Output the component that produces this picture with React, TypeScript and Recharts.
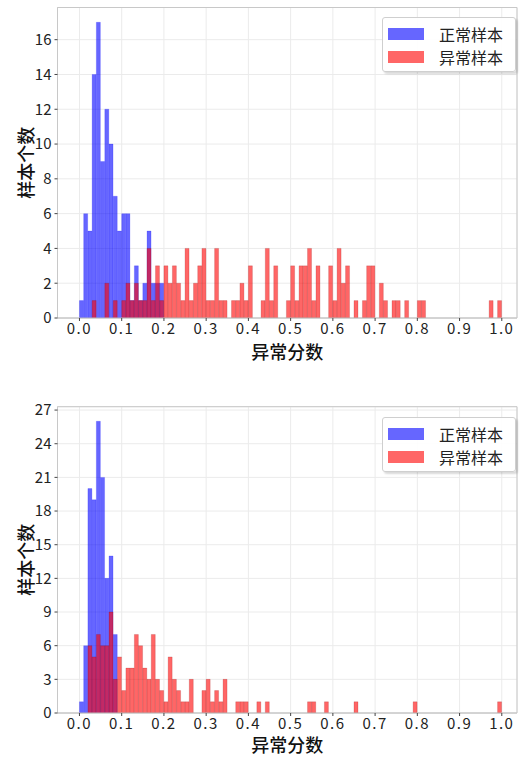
import React from 'react';
import { BarChart, Bar, XAxis, YAxis, CartesianGrid, ReferenceArea, Label } from 'recharts';

// histogram bins: 100 bins of width 0.01 over [0, 1]
const BIN_COUNT = 100;
const binCenters = Array.from({ length: BIN_COUNT }, (_, i) => +(i * 0.01 + 0.005).toFixed(3));

const xTicks = [0, 0.1, 0.2, 0.3, 0.4, 0.5, 0.6, 0.7, 0.8, 0.9, 1.0];
const topYTicks = [0, 2, 4, 6, 8, 10, 12, 14, 16];
const bottomYTicks = [0, 3, 6, 9, 12, 15, 18, 21, 24, 27];

// top panel counts per bin
const topNormal = [
  1, 6, 5, 14, 17, 9, 12, 10, 7, 5, 6, 6, 1, 3, 1, 2, 5, 2, 2, 2,
];
const topAnomaly = [
  0, 0, 0, 1, 0, 0, 2, 0, 1, 0, 1, 2, 1, 2, 1, 1, 4, 1, 3, 1,
  3, 2, 3, 2, 1, 4, 1, 2, 3, 4, 1, 1, 4, 1, 1, 0, 1, 1, 2, 1,
  3, 0, 0, 1, 4, 1, 3, 0, 0, 1, 3, 1, 3, 3, 4, 1, 3, 0, 0, 3,
  1, 4, 2, 3, 0, 1, 0, 1, 3, 3, 0, 2, 1, 0, 1, 1, 0, 1, 0, 0,
  1, 1, 0, 0, 0, 0, 0, 0, 0, 0, 0, 0, 0, 0, 0, 0, 0, 1, 0, 1,
];

// bottom panel counts per bin
const bottomNormal = [1, 6, 20, 19, 26, 21, 12, 14, 7];
const bottomAnomaly = [
  0, 0, 6, 5, 7, 6, 6, 9, 3, 5, 2, 4, 4, 7, 6, 4, 3, 7, 3, 2,
  1, 5, 3, 2, 1, 1, 3, 0, 0, 2, 3, 1, 2, 1, 3, 0, 0, 1, 1, 1,
  0, 0, 1, 0, 1, 0, 0, 0, 0, 0, 0, 0, 0, 0, 1, 1, 0, 0, 1, 0,
  0, 0, 0, 0, 0, 1, 0, 0, 0, 0, 0, 0, 0, 0, 0, 0, 0, 0, 0, 1,
  0, 0, 0, 0, 0, 0, 0, 0, 0, 0, 0, 0, 0, 0, 0, 0, 0, 0, 0, 1,
];

const FONT = '"Noto Sans CJK SC", "DejaVu Sans", sans-serif';
const X_DOMAIN: [number, number] = [-0.052, 1.036];

const buildRows = (normal: number[], anomaly: number[]) =>
  binCenters.map((x, i) => ({
    x,
    normal: normal[i] ? normal[i] : null,
    anomaly: anomaly[i] ? anomaly[i] : null,
  }));

type PanelProps = {
  normal: number[];
  anomaly: number[];
  yMax: number;
  yTicks: number[];
  top: number;
  marginTop: number;
  marginBottom: number;
  labelOffset: number;
};

const LegendBox = ({ top }: { top: number }) => (
  <div
    style={{
      position: 'absolute',
      left: 382,
      top,
      width: 134,
      height: 55,
      background: 'rgba(255,255,255,0.9)',
      border: '1px solid #cfcfcf',
      borderRadius: 3,
      boxShadow: '2px 2px 2px rgba(0,0,0,0.15)',
      boxSizing: 'border-box',
      fontFamily: FONT,
      fontSize: 16,
      color: '#222',
    }}
  >
    {[
      { name: '正常样本', color: 'rgba(0,0,255,0.6)' },
      { name: '异常样本', color: 'rgba(255,0,0,0.6)' },
    ].map((item, i) => (
      <div key={item.name} style={{ position: 'absolute', left: 5, top: 7 + i * 23, height: 18, display: 'flex', alignItems: 'center' }}>
        <div style={{ width: 36, height: 12, background: item.color }} />
        <span style={{ marginLeft: 15, lineHeight: '18px' }}>{item.name}</span>
      </div>
    ))}
  </div>
);

const Panel = ({ normal, anomaly, yMax, yTicks, top, marginTop, marginBottom, labelOffset }: PanelProps) => {
  const rows = buildRows(normal, anomaly);
  return (
    <div style={{ position: 'absolute', left: 0, top, width: 527, height: 380 }}>
      <BarChart
        width={527}
        height={380}
        data={rows}
        margin={{ top: marginTop, right: 10, left: 0, bottom: marginBottom }}
        barCategoryGap={0}
        barGap={0}
      >
        <CartesianGrid xAxisId="n" stroke="#ebebeb" strokeWidth={1} />
        <XAxis
          xAxisId="n"
          type="number"
          dataKey="x"
          domain={X_DOMAIN}
          allowDataOverflow
          ticks={xTicks}
          interval={0}
          tickFormatter={(v: number) => v.toFixed(1)}
          tickSize={3}
          tickMargin={2}
          height={45}
          axisLine={{ stroke: '#c8c8c8' }}
          tickLine={{ stroke: '#444' }}
          tick={{ fill: '#222', fontSize: 15, fontFamily: FONT, letterSpacing: 1.5 }}
        >
          <Label
            value="异常分数"
            position="insideBottom"
            offset={labelOffset}
            style={{ fontSize: 18, fontFamily: FONT, fill: '#111', fontWeight: 500 }}
          />
        </XAxis>
        <XAxis xAxisId="a" type="number" dataKey="x" domain={X_DOMAIN} allowDataOverflow hide height={0} orientation="top" />
        <YAxis
          type="number"
          domain={[0, yMax]}
          ticks={yTicks}
          interval={0}
          allowDataOverflow
          width={57.5}
          tickSize={3}
          tickMargin={3}
          axisLine={{ stroke: '#c8c8c8' }}
          tickLine={{ stroke: '#444' }}
          tick={{ fill: '#222', fontSize: 15, fontFamily: FONT }}
        >
          <Label
            value="样本个数"
            angle={-90}
            position="insideLeft"
            offset={27}
            style={{ fontSize: 18, fontFamily: FONT, fill: '#111', fontWeight: 500, textAnchor: 'middle' }}
          />
        </YAxis>
        <Bar xAxisId="n" dataKey="normal" fill="#0000ff" fillOpacity={0.6} stroke="#0000ff" strokeOpacity={0.3} strokeWidth={0.6} isAnimationActive={false} />
        <Bar xAxisId="a" dataKey="anomaly" fill="#ff0000" fillOpacity={0.6} stroke="#8b0000" strokeOpacity={0.3} strokeWidth={0.6} isAnimationActive={false} />
        <ReferenceArea
          xAxisId="n"
          x1={X_DOMAIN[0]}
          x2={X_DOMAIN[1]}
          y1={0}
          y2={yMax}
          fill="none"
          stroke="#c8c8c8"
          ifOverflow="visible"
        />
      </BarChart>
    </div>
  );
};

export default function App() {
  return (
    <div style={{ position: 'absolute', left: 0, top: 0, width: 527, height: 760, background: '#fff' }}>
      <Panel
        normal={topNormal}
        anomaly={topAnomaly}
        yMax={17.85}
        yTicks={topYTicks}
        top={0}
        marginTop={7.5}
        marginBottom={17}
        labelOffset={4}
      />
      <Panel
        normal={bottomNormal}
        anomaly={bottomAnomaly}
        yMax={27.3}
        yTicks={bottomYTicks}
        top={380}
        marginTop={26.7}
        marginBottom={2}
        labelOffset={6}
      />
      <LegendBox top={17} />
      <LegendBox top={417} />
    </div>
  );
}
